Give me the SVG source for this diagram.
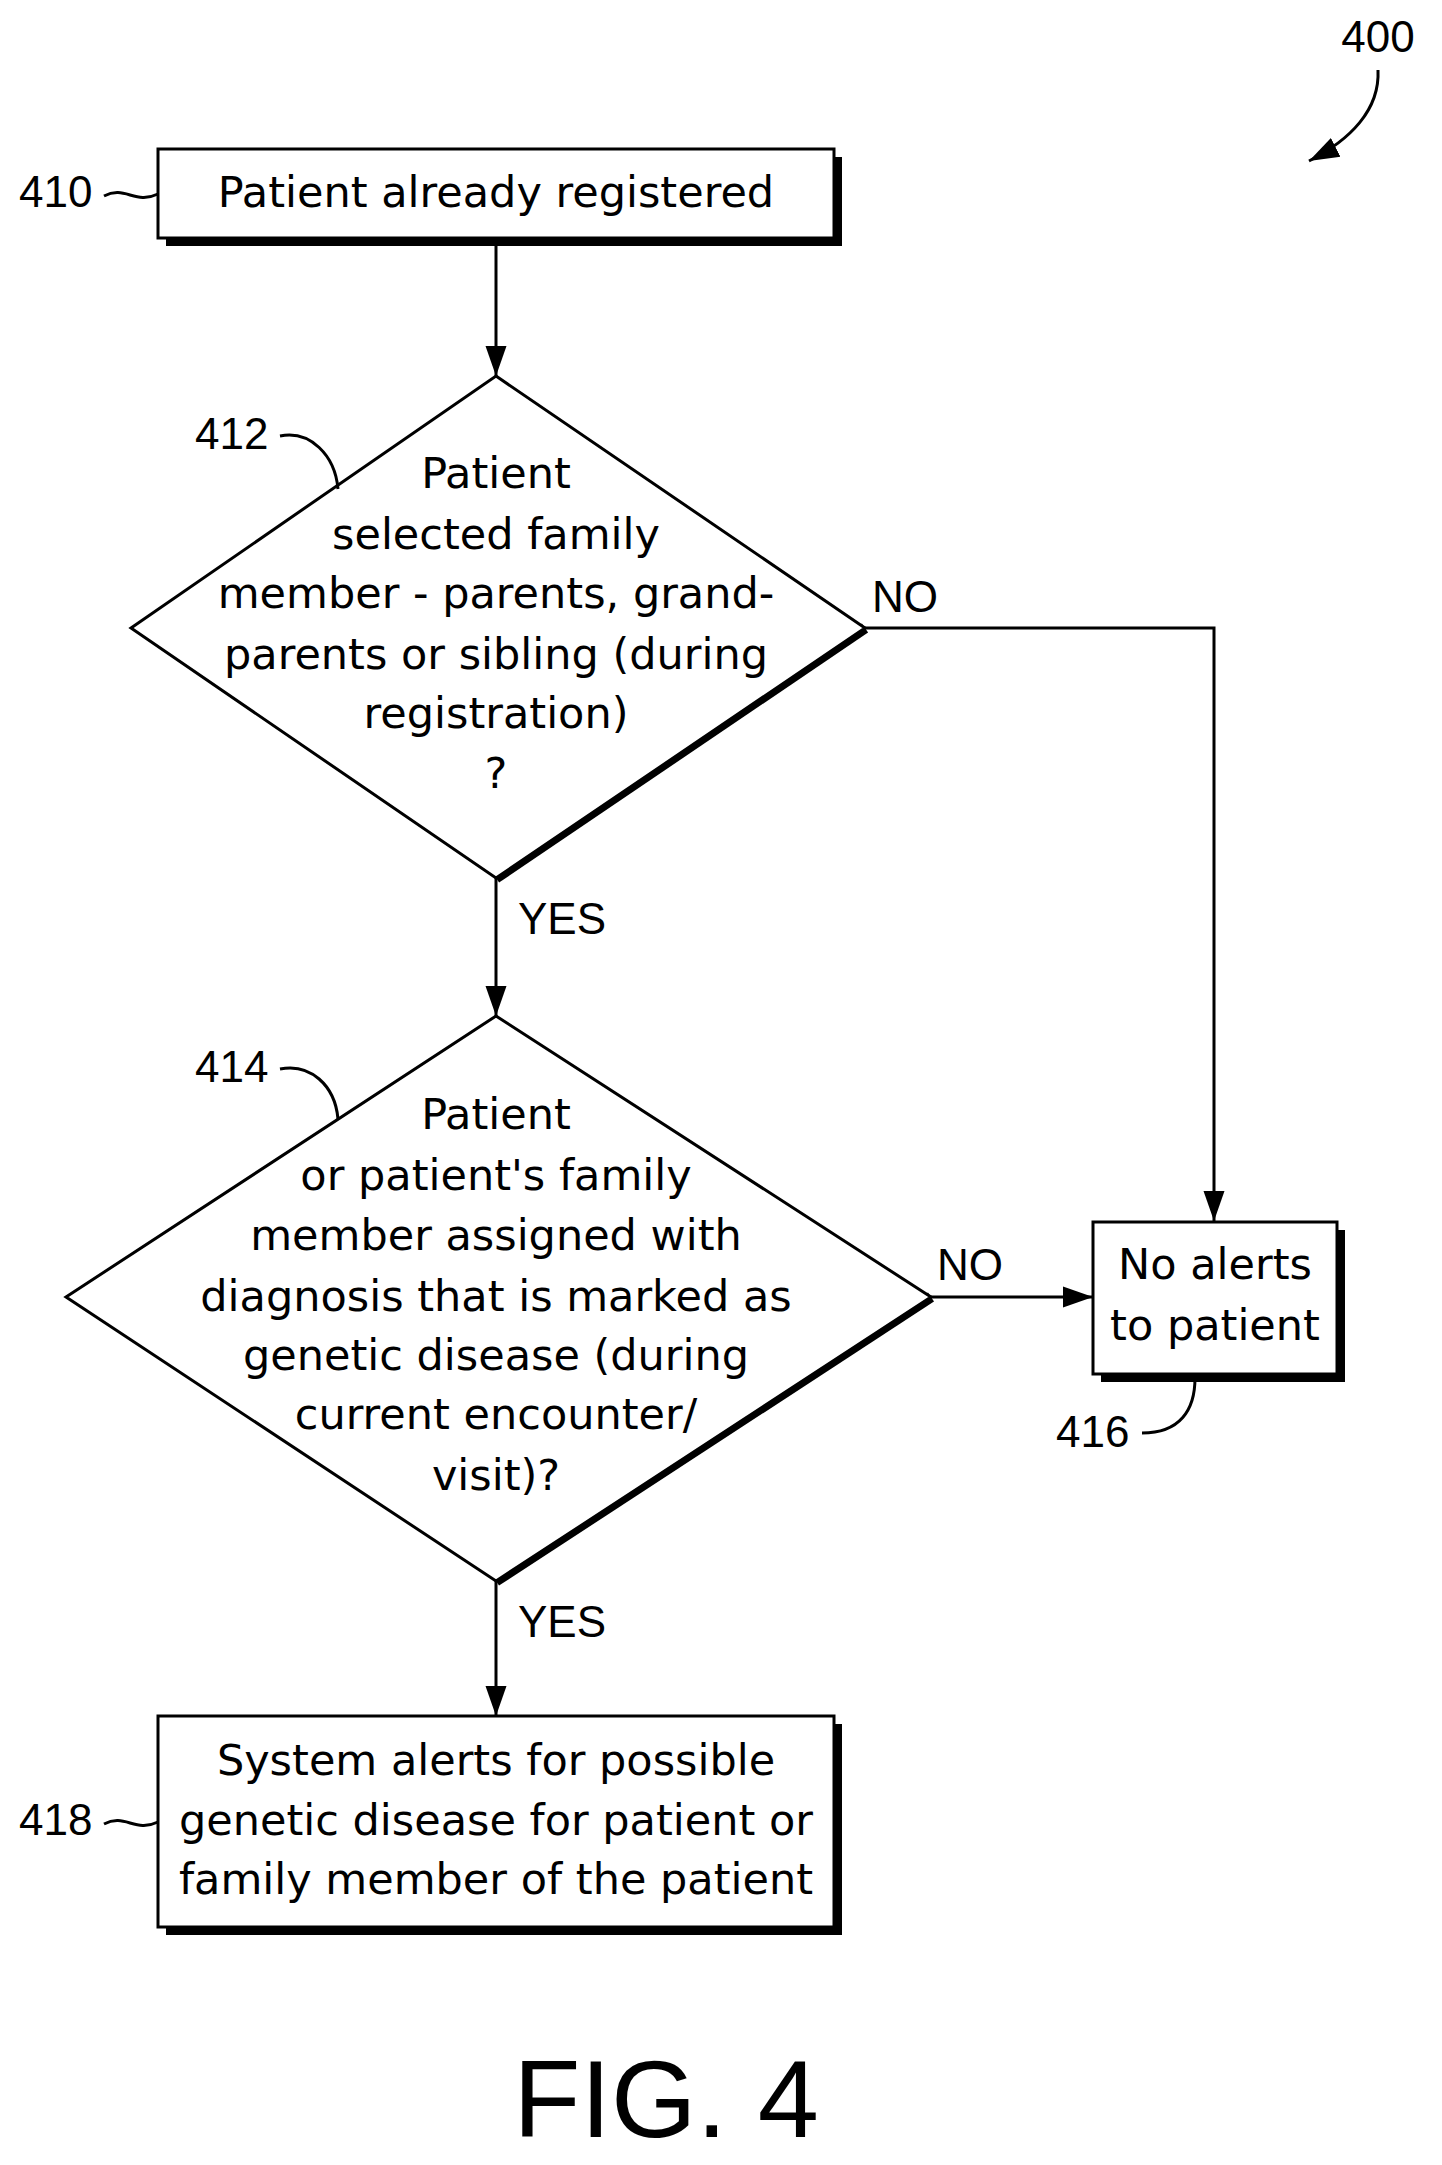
<svg xmlns="http://www.w3.org/2000/svg" width="1442" height="2165" viewBox="0 0 1442 2165">
<defs>
<style>
text{font-family:"DejaVu Sans","Liberation Sans",Arial,sans-serif;font-size:43px;fill:#000;text-anchor:middle}
.lbl{text-anchor:start;font-family:"Liberation Sans",Arial,sans-serif;font-size:44px}
.box{fill:#fff;stroke:#000;stroke-width:3}
.sh{fill:none;stroke:#000;stroke-width:8}
.shd{fill:none;stroke:#000;stroke-width:11}
.ln{fill:none;stroke:#000;stroke-width:3}
</style>
<marker id="b" viewBox="0 0 10 10" refX="10" refY="5" markerWidth="30" markerHeight="30" markerUnits="userSpaceOnUse" orient="auto"><path d="M0,1.5L10,5L0,8.5z" fill="#000"/></marker>
</defs>
<rect width="1442" height="2165" fill="#fff"/>
<g id="connectors">
<path class="ln" d="M496,238V376" marker-end="url(#b)"/>
<path class="ln" d="M865,628H1214V1221" marker-end="url(#b)"/>
<path class="ln" d="M496,878V1016" marker-end="url(#b)"/>
<path class="ln" d="M931,1297H1093" marker-end="url(#b)"/>
<path class="ln" d="M496,1581V1716" marker-end="url(#b)"/>
<text x="872" y="612" class="lbl">NO</text>
<text x="518" y="934" class="lbl">YES</text>
<text x="937" y="1280" class="lbl">NO</text>
<text x="518" y="1637" class="lbl">YES</text>
</g>
<g id="n400">
<text x="1378" y="52" class="lbl" style="text-anchor:middle">400</text>
<path class="ln" d="M1378,70C1380,110 1350,140 1309,161" marker-end="url(#b)"/>
</g>
<g id="n410">
<path class="sh" d="M166,242H838V157"/>
<rect class="box" x="158" y="149" width="676" height="89"/>
<text x="496" y="207">Patient already registered</text>
<text x="19" y="207" class="lbl">410</text>
<path class="ln" d="M104,196C125,185 135,205 158,194"/>
</g>
<g id="n412">
<path class="shd" d="M865,628L496,878"/>
<polygon class="box" points="496,376 865,628 496,878 131,628"/>
<text x="496" y="488">Patient</text>
<text x="496" y="549">selected family</text>
<text x="496" y="608">member - parents, grand-</text>
<text x="496" y="669">parents or sibling (during</text>
<text x="496" y="728">registration)</text>
<text x="496" y="788">?</text>
<text x="195" y="449" class="lbl">412</text>
<path class="ln" d="M280,436C310,430 335,455 338,489"/>
</g>
<g id="n414">
<path class="shd" d="M931,1297L496,1581"/>
<polygon class="box" points="496,1016 931,1297 496,1581 66,1297"/>
<text x="496" y="1129">Patient</text>
<text x="496" y="1190">or patient's family</text>
<text x="496" y="1250">member assigned with</text>
<text x="496" y="1311">diagnosis that is marked as</text>
<text x="496" y="1370">genetic disease (during</text>
<text x="496" y="1429">current encounter/</text>
<text x="496" y="1490">visit)?</text>
<text x="195" y="1082" class="lbl">414</text>
<path class="ln" d="M280,1069C310,1063 335,1085 338,1119"/>
</g>
<g id="n416">
<path class="sh" d="M1101,1378H1341V1230"/>
<rect class="box" x="1093" y="1222" width="244" height="152"/>
<text x="1215" y="1279">No alerts</text>
<text x="1215" y="1340">to patient</text>
<text x="1056" y="1447" class="lbl">416</text>
<path class="ln" d="M1142,1433C1180,1433 1195,1410 1195,1378"/>
</g>
<g id="n418">
<path class="sh" d="M166,1931H838V1724"/>
<rect class="box" x="158" y="1716" width="676" height="211"/>
<text x="496" y="1775">System alerts for possible</text>
<text x="496" y="1835">genetic disease for patient or</text>
<text x="496" y="1894">family member of the patient</text>
<text x="19" y="1835" class="lbl">418</text>
<path class="ln" d="M104,1824C125,1813 135,1833 158,1822"/>
</g>
<text x="666" y="2137" style="font-family:'Liberation Sans',Arial,sans-serif;font-size:110px">FIG. 4</text>
</svg>
